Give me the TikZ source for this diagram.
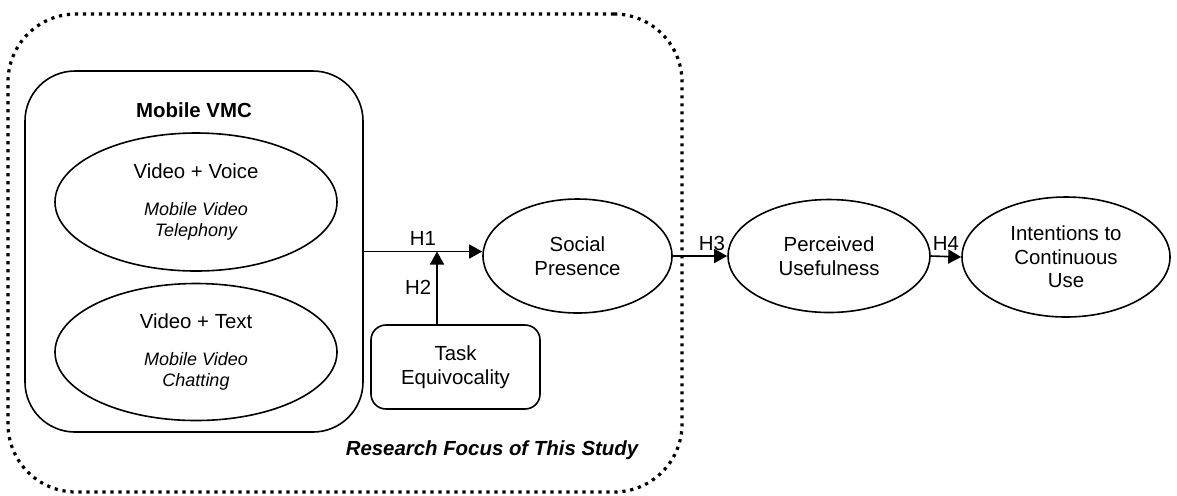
\documentclass[tikz,border=0pt]{standalone}
\usepackage{fontspec}
\setmainfont{Liberation Sans}
\usetikzlibrary{arrows.meta,shapes.geometric}
\newcommand{\subtxt}[1]{{\fontsize{9}{10.5}\selectfont\itshape #1}}
\begin{document}
\begin{tikzpicture}[x=0.5pt,y=-0.5pt,
    font=\fontsize{10.2}{11.75}\selectfont,
    construct/.style={shape=ellipse,draw=black,line width=0.8pt,inner sep=0pt,align=center},
    vmcbox/.style={shape=rectangle,draw=black,line width=0.8pt,rounded corners=25pt,
      minimum width=169pt,minimum height=180.5pt},
    taskbox/.style={shape=rectangle,draw=black,line width=0.8pt,rounded corners=7.5pt,
      minimum width=84.5pt,minimum height=42pt,align=center},
    focusbox/.style={shape=rectangle,draw=black,line width=1.6pt,rounded corners=34pt,
      dash pattern=on 1.6pt off 2.4pt,minimum width=337pt,minimum height=239pt},
    link/.style={-{Triangle[length=6.5pt,width=7pt]},line width=0.8pt},
    hyp/.style={inner sep=2.5pt}]
      \useasboundingbox (0,0) rectangle (1177,495);
      \draw
        (345, 253) node[focusbox] (focus){}
        (194, 251.5) node[vmcbox] (vmc){}
        (194, 110) node[font=\fontsize{10.2}{11.75}\selectfont\bfseries] (vmctitle){Mobile VMC}
        (196, 202) node[construct,minimum width=141pt,minimum height=69pt] (voice)
          {Video + Voice\\[7pt]\subtxt{Mobile Video}\\[-1.25pt]\subtxt{Telephony}}
        (196, 352) node[construct,minimum width=141pt,minimum height=68.5pt] (text)
          {Video + Text\\[7pt]\subtxt{Mobile Video}\\[-1.25pt]\subtxt{Chatting}}
        (455.5, 367) node[taskbox] (task){Task\\Equivocality}
        (577.5, 256) node[construct,minimum width=94.5pt,minimum height=57pt] (sp){Social\\Presence}
        (829, 256) node[construct,minimum width=101pt,minimum height=56.5pt] (pu){Perceived\\Usefulness}
        (1066, 257) node[construct,minimum width=104pt,minimum height=60pt] (ic){Intentions to\\Continuous\\Use}
        (492, 450) node[font=\fontsize{10.2}{11.75}\selectfont\bfseries\itshape] (focuslabel){Research Focus of This Study};
      \coordinate (h2) at (437, 251.5);
      \begin{scope}[link]
        \draw (vmc.east) -- (vmc.east -| sp.west) node[midway,above,hyp] {H1};
        \draw (task.north -| h2) -- (h2) node[midway,left,hyp] {H2};
        \draw (sp.east) -- (pu.west) node[pos=0.72,above,hyp] {H3};
        \draw (pu.east) -- (ic.west) node[midway,above,hyp] {H4};
      \end{scope}
    \end{tikzpicture}
\end{document}
